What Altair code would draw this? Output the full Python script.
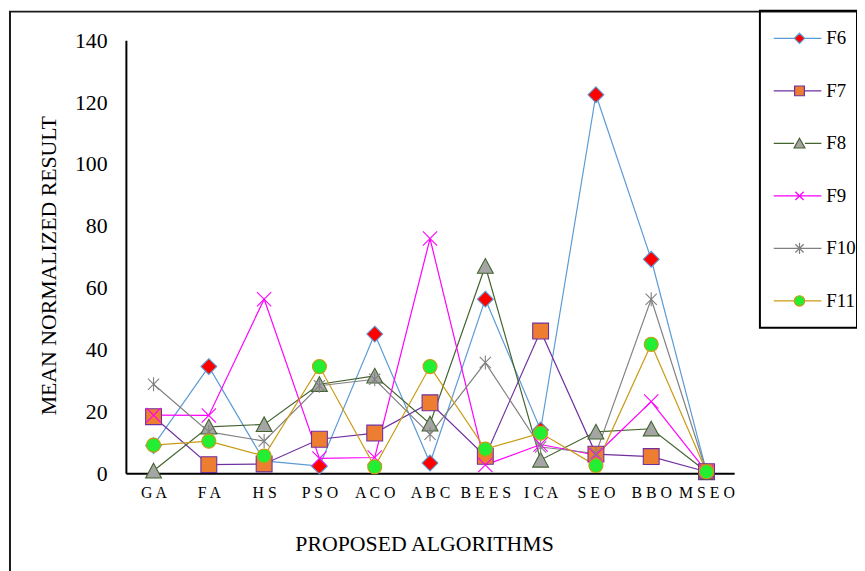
import altair as alt
import pandas as pd

algorithms = ["GA", "FA", "HS", "PSO", "ACO", "ABC", "BEES", "ICA", "SEO", "BBO", "MSEO"]
series_names = ["F6", "F7", "F8", "F9", "F10", "F11"]

f6 = [9.0, 34.5, 4.0, 2.3, 45.0, 3.3, 56.3, 14.0, 122.4, 69.2, 0.5]
f7 = [18.3, 2.8, 3.0, 11.0, 13.0, 22.8, 5.5, 46.0, 6.2, 5.4, 0.5]
f8 = [0.8, 15.0, 15.8, 28.8, 31.5, 16.0, 67.0, 4.3, 13.4, 14.4, 0.5]
f9 = [18.8, 18.7, 56.3, 4.8, 5.1, 75.9, 2.7, 9.3, 5.9, 23.2, 0.5]
f10 = [28.8, 13.4, 10.4, 28.3, 30.4, 12.6, 35.8, 8.5, 6.4, 56.3, 0.5]
f11 = [9.1, 10.4, 5.6, 34.5, 2.1, 34.5, 7.8, 13.0, 2.5, 41.7, 0.5]

y_ticks = [0, 20, 40, 60, 80, 100, 120, 140]

series_values = {"F6": f6, "F7": f7, "F8": f8, "F9": f9, "F10": f10, "F11": f11}
rows = []
for s in series_names:
    for a, v in zip(algorithms, series_values[s]):
        rows.append({"alg": a, "series": s, "value": v})
df = pd.DataFrame(rows)

line_colors = ["#5B9BD5", "#7030A0", "#43632F", "#FF00FF", "#808080", "#C99A14"]
fill_colors = ["#FF0000", "#ED7D31", "#A5A5A5", "#FF00FF", "#808080", "#22EE33"]

marker_paths = {
    "F6": "M0,-1L1,0L0,1L-1,0Z",
    "F7": "M-1,-1L1,-1L1,1L-1,1Z",
    "F8": "M0,-0.95L1,0.9L-1,0.9Z",
    "F9": "M-0.9,-0.9L0.9,0.9M-0.9,0.9L0.9,-0.9",
    "F10": "M-0.8,-0.8L0.8,0.8M-0.8,0.8L0.8,-0.8M0,-1L0,1",
    "F11": "circle",
}
marker_sizes = {"F6": 256, "F7": 256, "F8": 256, "F9": 256, "F10": 200, "F11": 201}

_pad = "M0.46,-0.88M0.46,0.88"
legend_paths = [
    _pad + "M-0.54,0H0.26M0.66,0H1.31M0.46,-0.2L0.66,0L0.46,0.2L0.26,0Z",
    _pad + "M-0.54,0H0.27M0.65,0H1.31M0.27,-0.19H0.65V0.19H0.27Z",
    _pad + "M-0.54,0H0.25M0.67,0H1.31M0.46,-0.2L0.67,0.18L0.25,0.18Z",
    _pad + "M-0.54,0H1.31M0.3,-0.16L0.62,0.16M0.3,0.16L0.62,-0.16",
    _pad + "M-0.54,0H1.31M0.3,-0.16L0.62,0.16M0.3,0.16L0.62,-0.16M0.46,-0.22L0.46,0.22",
    _pad + "M-0.54,0H0.26M0.66,0H1.31M0.26,0A0.2,0.2,0,1,0,0.66,0A0.2,0.2,0,1,0,0.26,0Z",
]

FONT = "Liberation Serif"

x_enc = alt.X(
    "alg:N",
    sort=algorithms,
    scale=alt.Scale(type="point", padding=0.5),
    axis=alt.Axis(
        labelAngle=0, ticks=False, grid=False,
        domainColor="black", domainWidth=2,
        labelFont=FONT, labelFontSize=16, labelColor="black", labelPadding=11,
        labelExpr="join(split(datum.label, ''), ' ')",
        title="PROPOSED ALGORITHMS", titleFont=FONT, titleFontSize=22,
        titleFontWeight="normal", titleColor="black",
        titleX=301, titleY=78, titleBaseline="alphabetic",
    ),
)
y_enc = alt.Y(
    "value:Q",
    scale=alt.Scale(domain=[0, 140], nice=False),
    axis=alt.Axis(
        values=y_ticks, ticks=False, grid=False,
        domainColor="black", domainWidth=2,
        labelFont=FONT, labelFontSize=22, labelColor="black", labelPadding=19,
        title="MEAN NORMALIZED RESULT", titleFont=FONT, titleFontSize=22,
        titleFontWeight="normal", titleColor="black",
        titleX=-66, titleY=227,
    ),
)

stroke_scale = alt.Scale(domain=series_names, range=line_colors)
fill_scale = alt.Scale(domain=series_names, range=fill_colors)
shape_scale = alt.Scale(domain=series_names, range=legend_paths)
leg = alt.Legend(title=None)

base = alt.Chart(df)

border = alt.Chart(alt.Data(values=[{}])).mark_rect(
    fill=None, stroke="#1a1a1a", strokeWidth=2
).encode(
    x=alt.value(-117), x2=alt.value(900), y=alt.value(-29), y2=alt.value(700)
)

lines = base.mark_line(strokeWidth=1.2).encode(
    x=x_enc, y=y_enc,
    stroke=alt.Stroke("series:N", scale=stroke_scale, legend=leg),
    detail="series:N",
)

point_layers = []
for s in series_names:
    point_layers.append(
        base.transform_filter(alt.datum.series == s).mark_point(
            shape=marker_paths[s], filled=True, size=marker_sizes[s],
            opacity=1, strokeWidth=1.1,
        ).encode(
            x=x_enc, y=y_enc,
            fill=alt.Fill("series:N", scale=fill_scale, legend=leg),
            stroke=alt.Stroke("series:N", scale=stroke_scale, legend=leg),
        )
    )

legend_layer = base.transform_filter("false").mark_point(
    filled=True, opacity=1, strokeWidth=1.2
).encode(
    x=x_enc, y=y_enc,
    fill=alt.Fill("series:N", scale=fill_scale, legend=leg),
    stroke=alt.Stroke("series:N", scale=stroke_scale, legend=leg),
    shape=alt.Shape("series:N", scale=shape_scale, legend=leg),
)

chart = alt.layer(border, lines, *point_layers, legend_layer).properties(
    width=614, height=437, autosize="none",
    padding={"left": 119, "top": 30, "right": 124, "bottom": 96},
).configure_view(stroke=None).configure_legend(
    orient="none", legendX=640, legendY=-30,
    labelFont=FONT, labelFontSize=19, labelColor="black", labelOffset=12,
    symbolSize=2704, symbolStrokeWidth=1.2, rowPadding=0,
    strokeColor="black", strokeWidth=2, padding=1,
)

chart.save("out.html", embed_options={"renderer": "svg", "actions": False})
